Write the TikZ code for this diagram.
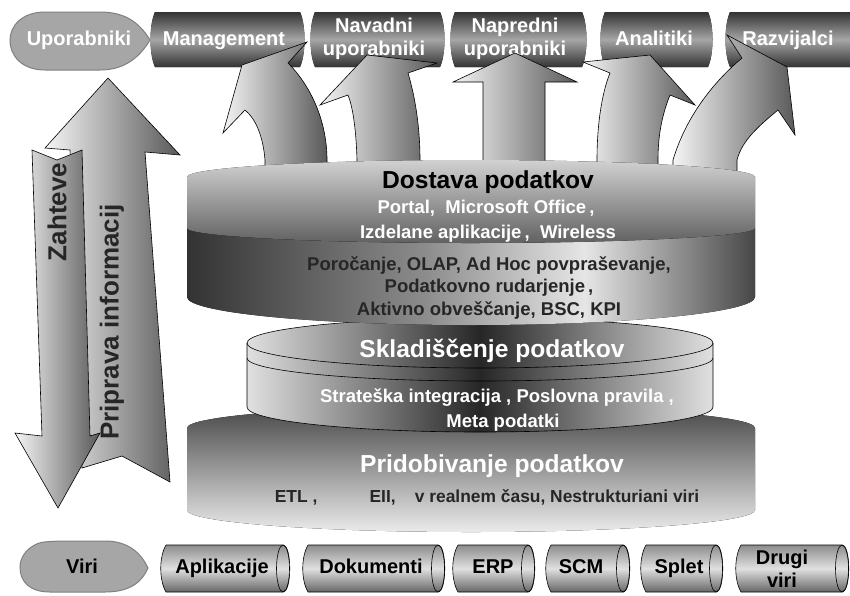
\documentclass[tikz,border=0pt]{standalone}
\usepackage{fontspec}
\setmainfont{Liberation Sans}
\usepackage{tikz}
\usetikzlibrary{positioning}
\pgfdeclarehorizontalshading{darkband}{100bp}{color(0bp)=(black!80); color(25bp)=(black!80); color(46bp)=(black!45); color(60bp)=(black!10); color(75bp)=(black!72); color(100bp)=(black!72)}

\begin{document}
\begin{tikzpicture}[x=1pt,y=-1pt,
  txt/.style={font=\bfseries\fontsize{18.5}{22}\selectfont,align=center,inner sep=0pt,anchor=mid,yshift=-2.5pt},
  lbl/.style={font=\bfseries\fontsize{20}{23}\selectfont,align=center,inner sep=0pt,anchor=mid,yshift=-3pt},
  big/.style={font=\bfseries\fontsize{24.6}{28}\selectfont,inner sep=0pt,anchor=mid,yshift=-3pt},
  side/.style={font=\bfseries\fontsize{26}{28}\selectfont,inner sep=0pt,rotate=90,text=black!85},
  usr/.style={top color=black!80,bottom color=black!80,middle color=black!35},
  src/.style={top color=black!45,bottom color=black!60,middle color=black!12,draw=black,line width=0.6pt},
  leaf/.style={fill=black!35,draw=black!50,line width=1pt},
  upar/.style={left color=black!4,right color=black!65,draw=black,line width=0.6pt}]
\useasboundingbox (0,0) rectangle (850,595);

\fill[usr] (155,12) -- (300,12) .. controls (306,25) and (306,54) .. (300,67) -- (155,67) .. controls (149,54) and (149,25) .. (155,12);
\fill[usr] (315,12) -- (440,12) .. controls (446,25) and (446,54) .. (440,67) -- (315,67) .. controls (309,54) and (309,25) .. (315,12);
\fill[usr] (455,12) -- (582,12) .. controls (588,25) and (588,54) .. (582,67) -- (455,67) .. controls (449,54) and (449,25) .. (455,12);
\fill[usr] (605,12) -- (708,12) .. controls (714,25) and (714,54) .. (708,67) -- (605,67) .. controls (599,54) and (599,25) .. (605,12);
\fill[usr] (730,12) -- (850,12) -- (850,67) -- (730,67) .. controls (724,54) and (724,25) .. (730,12);
\draw[leaf] (150,40) .. controls (138,20) and (122,12) .. (100,12) -- (45,12) .. controls (22,12) and (10,26) .. (10,40) .. controls (10,56) and (22,70) .. (45,70) -- (100,70) .. controls (122,70) and (138,60) .. (150,40);

\node[lbl,white] (uporabniki) at (79,40) {Uporabniki};
\node[lbl,white] (mgmt) at (224,40) {Management};
\node[lbl,white,anchor=center] (navadni) at (374,36) {Navadni\\uporabniki};
\node[lbl,white,anchor=center] (napredni) at (515,36) {Napredni\\uporabniki};
\node[lbl,white] (analitiki) at (654,40) {Analitiki};
\node[lbl,white] (razvijalci) at (788,40) {Razvijalci};

\draw[upar] (265,185) -- (265,160) .. controls (263,135) and (255,118) .. (245,110) -- (223,133) -- (242,65) -- (307,42) -- (288,63) .. controls (310,85) and (327,120) .. (327,160) -- (327,185) -- cycle;
\draw[upar] (357,185) -- (357,160) .. controls (356,125) and (352,105) .. (348,95) -- (320,105) -- (367,55) -- (437,63) -- (408,73) .. controls (416,100) and (420,130) .. (420,160) -- (420,185) -- cycle;
\draw[upar] (483,185) -- (483,82) -- (453,82) -- (515,53) -- (577,82) -- (545,82) -- (545,185) -- cycle;
\draw[upar] (597,185) -- (597,160) .. controls (597,120) and (603,90) .. (610,73) -- (583,62) -- (650,55) -- (695,105) -- (670,95) .. controls (662,115) and (658,135) .. (658,160) -- (658,185) -- cycle;
\draw[upar] (673,185) -- (673,160) .. controls (685,120) and (710,85) .. (742,58) -- (727,35) -- (787,67) -- (795,135) -- (778,110) .. controls (760,125) and (742,140) .. (737,160) -- (737,185) -- cycle;

\fill[top color=black!72,bottom color=black!8] (187,428) arc[start angle=180,end angle=360,x radius=284,y radius=22] -- (755,510) arc[start angle=0,end angle=180,x radius=284,y radius=22] -- cycle;
\draw[left color=black!12,right color=black!12,middle color=black!85,line width=0.6pt] (247,343) arc[start angle=180,end angle=360,x radius=233,y radius=25] -- (713,407) arc[start angle=0,end angle=180,x radius=233,y radius=25] -- cycle;
\draw[line width=0.6pt] (247,343) arc[start angle=180,end angle=0,x radius=233,y radius=25];
\draw[line width=0.6pt] (247,358) arc[start angle=180,end angle=0,x radius=233,y radius=23];
\fill[shading=darkband] (187,228) -- (187,297) arc[start angle=180,end angle=0,x radius=284,y radius=28] -- (755,228) -- cycle;
\fill[top color=black!18,bottom color=black!62] (187,177) arc[start angle=180,end angle=360,x radius=284,y radius=17] -- (755,228) arc[start angle=0,end angle=180,x radius=284,y radius=15] -- cycle;

\node[big] (dostava) at (488,183) {Dostava podatkov};
\node[txt,white] (portal) at (486,208) {Portal,\ \ Microsoft Office\,,};
\node[txt,white] (izdelane) at (488,233) {Izdelane aplikacije\,,\ \ Wireless};
\node[txt,black!85] (porocanje) at (489,265) {Poročanje, OLAP, Ad Hoc povpraševanje,};
\node[txt,black!85] (rudarjenje) at (489,287) {Podatkovno rudarjenje\,,};
\node[txt,black!85] (aktivno) at (489,310) {Aktivno obveščanje, BSC, KPI};
\node[big,white] (skladiscenje) at (492,352) {Skladiščenje podatkov};
\node[txt,white] (strateska) at (497,397) {Strateška integracija , Poslovna pravila ,};
\node[txt,white] (meta) at (503,422) {Meta podatki};
\node[big,white] (pridobivanje) at (492,467) {Pridobivanje podatkov};
\node[txt,black!85,font=\bfseries\fontsize{17.4}{22}\selectfont] (etl) at (487,497) {ETL ,\hspace{3em}EII,\hspace{1.1em}v realnem času, Nestrukturiani viri};

\draw[upar] (108,78) -- (180,155) -- (145,152) -- (170,482) -- (122,456) -- (82,468) -- (70,150) -- (45,148) -- cycle;
\draw[upar] (32,150) -- (57,160) -- (82,150) -- (90,436) -- (100,433) -- (58,508) -- (15,433) -- (42,436) -- cycle;
\node[side] (zahteve) at (57,212) {Zahteve};
\node[side] (priprava) at (112,322) {Priprava informacij};

\draw[leaf] (33,546) .. controls (40,542) .. (60,541) -- (105,541) .. controls (130,541) and (142,555) .. (148,568) .. controls (142,582) and (130,592) .. (105,592) -- (50,592) .. controls (30,592) and (20,582) .. (20,567) .. controls (20,558) and (26,550) .. (33,546);
\draw[src] (166,545) -- (283,545) .. controls (292,545) and (292,592) .. (283,592) -- (166,592) .. controls (159,580) and (159,557) .. (166,545);
\draw[src] (283,568.5) ellipse [x radius=6.5,y radius=23.5];
\draw[src] (308,545) -- (438,545) .. controls (447,545) and (447,592) .. (438,592) -- (308,592) .. controls (301,580) and (301,557) .. (308,545);
\draw[src] (438,568.5) ellipse [x radius=6.5,y radius=23.5];
\draw[src] (458,545) -- (528,545) .. controls (537,545) and (537,592) .. (528,592) -- (458,592) .. controls (451,580) and (451,557) .. (458,545);
\draw[src] (528,568.5) ellipse [x radius=6.5,y radius=23.5];
\draw[src] (551,545) -- (623,545) .. controls (632,545) and (632,592) .. (623,592) -- (551,592) .. controls (544,580) and (544,557) .. (551,545);
\draw[src] (623,568.5) ellipse [x radius=6.5,y radius=23.5];
\draw[src] (646,545) -- (716,545) .. controls (725,545) and (725,592) .. (716,592) -- (646,592) .. controls (639,580) and (639,557) .. (646,545);
\draw[src] (716,568.5) ellipse [x radius=6.5,y radius=23.5];
\draw[src] (741,545) -- (842,545) .. controls (851,545) and (851,592) .. (842,592) -- (741,592) .. controls (734,580) and (734,557) .. (741,545);
\draw[src] (842,568.5) ellipse [x radius=6.5,y radius=23.5];

\node[lbl] (viri) at (82,568) {Viri};
\node[lbl] (aplikacije) at (222,568) {Aplikacije};
\node[lbl] (dokumenti) at (371,568) {Dokumenti};
\node[lbl] (erp) at (493,568) {ERP};
\node[lbl] (scm) at (581,568) {SCM};
\node[lbl] (splet) at (679,568) {Splet};
\node[lbl,anchor=center] (drugi) at (782,566) {Drugi\\viri};
\end{tikzpicture}
\end{document}
